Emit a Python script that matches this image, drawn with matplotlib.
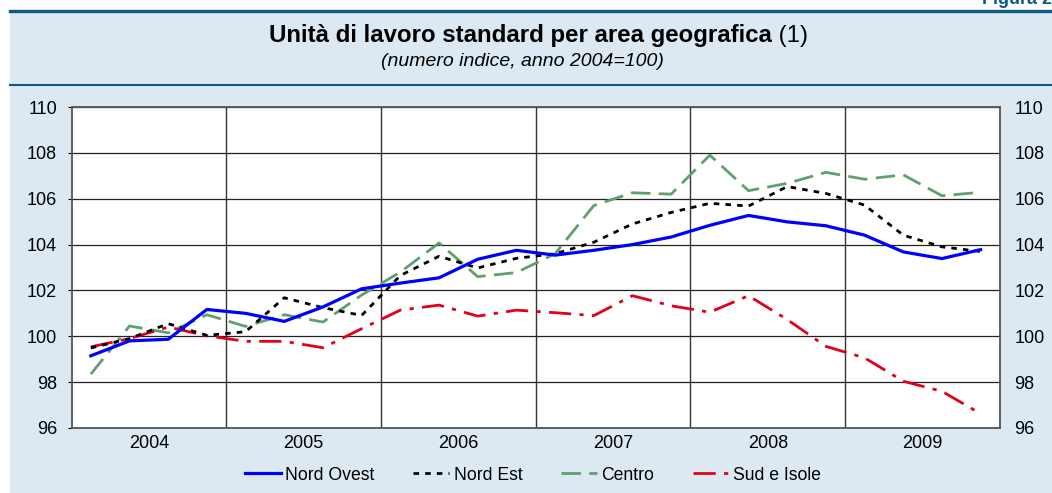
import numpy as np
import matplotlib.pyplot as plt
from matplotlib.patches import Rectangle
from matplotlib.lines import Line2D

# quarterly data, 2004 Q1 .. 2009 Q4
years = ['2004', '2005', '2006', '2007', '2008', '2009']
nord_ovest = [99.15, 99.8, 99.87, 101.17, 101.0, 100.65, 101.28, 102.07,
              102.32, 102.55, 103.36, 103.75, 103.54, 103.75, 104.0, 104.33,
              104.84, 105.27, 104.99, 104.82, 104.41, 103.68, 103.39, 103.78]
nord_est = [99.49, 99.9, 100.55, 100.04, 100.2, 101.68, 101.25, 100.91,
            102.65, 103.49, 102.98, 103.4, 103.6, 104.1, 104.9, 105.4,
            105.8, 105.68, 106.53, 106.23, 105.72, 104.41, 103.9, 103.7]
centro = [98.35, 100.45, 100.15, 100.94, 100.43, 100.94, 100.62, 101.8,
          102.8, 104.07, 102.6, 102.78, 103.6, 105.7, 106.26, 106.2,
          107.9, 106.35, 106.67, 107.15, 106.85, 107.04, 106.13, 106.28]
sud_isole = [99.54, 99.9, 100.4, 100.02, 99.78, 99.78, 99.5, 100.33,
             101.14, 101.36, 100.88, 101.14, 101.03, 100.9, 101.77, 101.33,
             101.05, 101.77, 100.73, 99.56, 99.06, 98.04, 97.6, 96.62]

BG = '#dde9f2'
DARK_BLUE = '#0d5a86'
FONT = 'Liberation Sans'

fig = plt.figure(figsize=(10.52, 4.93), dpi=100)
fig.patch.set_facecolor('white')
W, H = 1052, 493

# light blue panel + header lines
fig.patches.append(Rectangle((10 / W, 0), 1, 1 - 11 / H, transform=fig.transFigure,
                             facecolor=BG, edgecolor='none', zorder=-5))
fig.add_artist(Line2D([10 / W, 1], [1 - 11 / H] * 2, transform=fig.transFigure,
                      color=DARK_BLUE, lw=2.4))
fig.add_artist(Line2D([10 / W, 1], [1 - 85 / H] * 2, transform=fig.transFigure,
                      color=DARK_BLUE, lw=1.5))
fig.text(982 / W, 1 - 4 / H, 'Figura 2', ha='left', va='baseline', fontsize=13,
         fontweight='bold', color=DARK_BLUE, family=FONT)

t1 = fig.text(269 / W, 1 - 42 / H, 'Unità di lavoro standard per area geografica', ha='left',
              va='baseline', fontsize=17.3, fontweight='bold', family=FONT)
renderer = fig.canvas.get_renderer()
bb = t1.get_window_extent(renderer)
fig.text(bb.x1 / W, 1 - 42 / H, ' (1)', ha='left', va='baseline', fontsize=17.3,
         family=FONT)
fig.text(522 / W, 1 - 61 / H, '(numero indice, anno 2004=100)', ha='center', va='center',
         fontsize=14, style='italic', family=FONT)

ax = fig.add_axes([71.5 / W, 1 - 428 / H, (1000 - 71.5) / W, (428 - 107) / H], zorder=2)
ax.set_facecolor('white')
x = np.arange(len(nord_ovest))

ax.plot(x, nord_ovest, color='#0000ff', lw=2.3, label='Nord Ovest', zorder=5)
ax.plot(x, nord_est, color='black', lw=2.0, linestyle=(0, (2, 2.2)), label='Nord Est', zorder=4)
ax.plot(x, centro, color='#5fa06e', lw=2.0, linestyle=(0, (7, 3)), label='Centro', zorder=3)
ax.plot(x, sud_isole, color='#e2001a', lw=2.0, linestyle=(0, (8, 3, 1.5, 3)),
        label='Sud e Isole', zorder=3)

ax.set_xlim(-0.5, len(x) - 0.5)
ax.set_ylim(96, 110)
ax.set_yticks(np.arange(96, 111, 2))
ax.set_xticks([i * 4 + 1.5 for i in range(len(years))])
ax.set_xticklabels(years)
ax.set_xticks([i * 4 - 0.5 for i in range(1, len(years))], minor=True)
ax.tick_params(axis='x', which='both', length=0, pad=5, labelsize=13)
ax.tick_params(axis='y', which='both', length=3, pad=7.5, labelsize=13,
               left=True, right=False, labelleft=True, labelright=True)
for lab in ax.get_xticklabels() + ax.get_yticklabels():
    lab.set_family(FONT)
ax.grid(axis='y', which='major', color='#222222', lw=0.9)
ax.grid(axis='x', which='minor', color='#333333', lw=1.0)
ax.set_axisbelow(True)
for sp in ax.spines.values():
    sp.set_color('#555555')
    sp.set_linewidth(1.3)

fig.legend(loc='center', bbox_to_anchor=(533 / W, 1 - 475 / H), ncol=4, frameon=False,
           handlelength=2.05, handletextpad=0.23, columnspacing=2.2,
           prop={'family': FONT, 'size': 12.7})

fig.savefig('out.png', dpi=100)
